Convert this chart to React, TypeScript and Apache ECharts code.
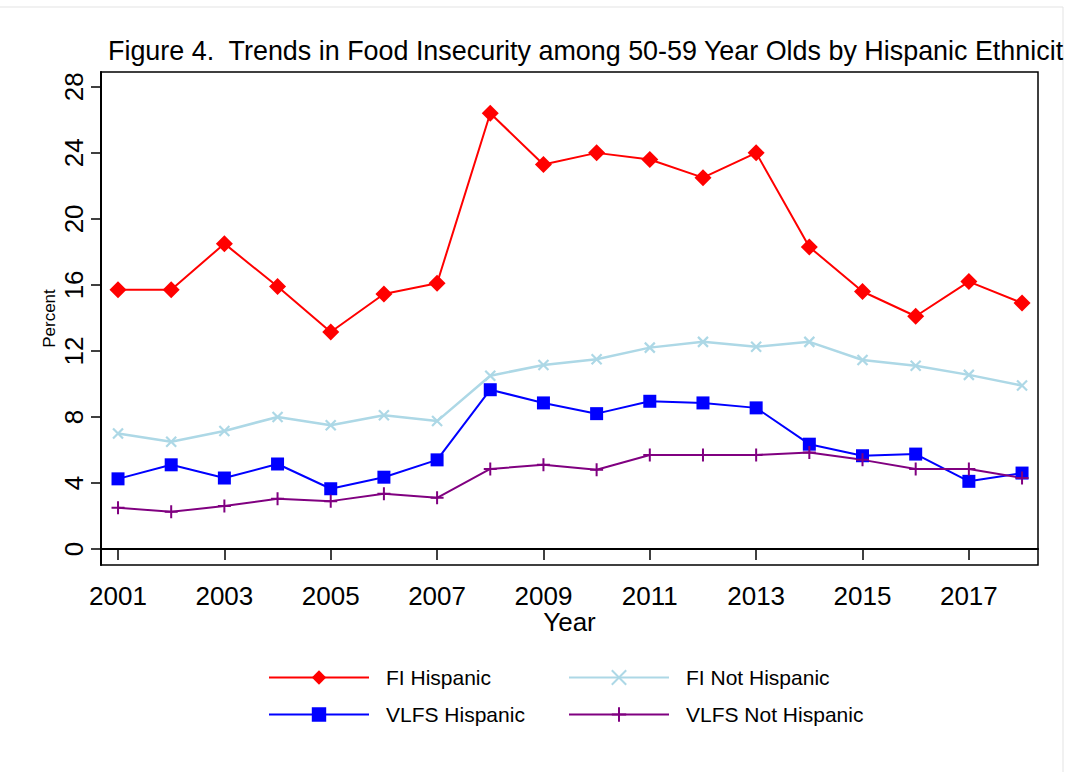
import React, { useEffect, useRef } from "react";
import * as echarts from "echarts";

const years = [2001, 2002, 2003, 2004, 2005, 2006, 2007, 2008, 2009, 2010, 2011, 2012, 2013, 2014, 2015, 2016, 2017, 2018];
const fiHispanic = [15.7, 15.7, 18.5, 15.9, 13.15, 15.45, 16.1, 26.4, 23.3, 24.0, 23.6, 22.5, 24.0, 18.3, 15.6, 14.1, 16.2, 14.9];
const fiNotHispanic = [7.0, 6.5, 7.15, 8.0, 7.5, 8.1, 7.75, 10.5, 11.15, 11.5, 12.2, 12.55, 12.25, 12.55, 11.45, 11.1, 10.55, 9.9];
const vlfsHispanic = [4.25, 5.1, 4.3, 5.15, 3.65, 4.35, 5.4, 9.65, 8.85, 8.2, 8.95, 8.85, 8.55, 6.35, 5.65, 5.75, 4.1, 4.6];
const vlfsNotHispanic = [2.5, 2.25, 2.6, 3.05, 2.9, 3.35, 3.1, 4.85, 5.1, 4.8, 5.7, 5.7, 5.7, 5.85, 5.4, 4.85, 4.85, 4.3];
const xTicks = [2001, 2003, 2005, 2007, 2009, 2011, 2013, 2015, 2017];
const yTicks = [0, 4, 8, 12, 16, 20, 24, 28];

const titleText = "Figure 4.  Trends in Food Insecurity among 50-59 Year Olds by Hispanic Ethnicit";
const FONT = "'Liberation Sans', Arial, Helvetica, sans-serif";

const X_SYMBOL = "path://M0,0 L10,10 M10,0 L0,10";
const PLUS_SYMBOL = "path://M5,0 L5,10 M0,5 L10,5";

function pairs(vals: number[]) {
  return years.map((y, i) => [y, vals[i]]);
}

export default function App() {
  const ref = useRef<HTMLDivElement>(null);
  useEffect(() => {
    if (!ref.current) return;
    const chart = echarts.init(ref.current, null, { renderer: "svg" });
    const seriesDefs = [
      { name: "FI Hispanic", data: fiHispanic, color: "#ff0000", symbol: "diamond", size: 17, width: 2, border: 0 },
      { name: "FI Not Hispanic", data: fiNotHispanic, color: "#add8e6", symbol: X_SYMBOL, size: 10, width: 2.5, border: 2.2 },
      { name: "VLFS Hispanic", data: vlfsHispanic, color: "#0000ff", symbol: "rect", size: 13, width: 2, border: 0 },
      { name: "VLFS Not Hispanic", data: vlfsNotHispanic, color: "#800080", symbol: PLUS_SYMBOL, size: 13, width: 2, border: 2 },
    ];
    const legendPos = [
      { left: 268, top: 667 },
      { left: 568, top: 667 },
      { left: 268, top: 704 },
      { left: 568, top: 704 },
    ];
    chart.setOption({
      animation: false,
      backgroundColor: "#ffffff",
      textStyle: { fontFamily: FONT },
      title: {
        text: titleText,
        left: 108,
        top: 37,
        padding: 0,
        textStyle: { fontSize: 26.9, fontWeight: "normal", color: "#000", fontFamily: FONT },
      },
      graphic: [
        {
          type: "rect",
          shape: { x: -2, y: 7, width: 1065, height: 800 },
          style: { fill: "none", stroke: "#e3e3e3", lineWidth: 1 },
          silent: true,
          z: -10,
        },
      ],
      legend: seriesDefs.map((s, i) => ({
        data: [s.name],
        left: legendPos[i].left,
        top: legendPos[i].top,
        padding: 0,
        itemWidth: 100,
        itemHeight: 18,
        textStyle: { fontSize: 21, color: "#000", fontFamily: FONT, padding: [0, 0, 0, 12] },
        selectedMode: false,
      })),
      grid: {
        left: 101,
        top: 72,
        right: 29,
        bottom: 207,
        show: true,
        borderColor: "#000",
        borderWidth: 1.5,
        containLabel: false,
      },
      xAxis: {
        type: "value",
        min: 2000.68,
        max: 2018.3,
        name: "Year",
        nameLocation: "middle",
        nameGap: 44,
        nameMoveOverlap: false,
        nameTextStyle: { fontSize: 26, color: "#000", fontFamily: FONT },
        axisLine: { show: true, lineStyle: { color: "#000", width: 2 } },
        axisTick: { show: true, length: 11, customValues: xTicks, lineStyle: { color: "#000", width: 1.5 } },
        axisLabel: { customValues: xTicks, fontSize: 26, color: "#000", margin: 18, fontFamily: FONT, formatter: (v: number) => String(v) },
        splitLine: { show: false },
      },
      yAxis: {
        type: "value",
        min: -0.97,
        max: 28.9,
        name: "Percent",
        nameLocation: "middle",
        nameRotate: 90,
        nameGap: 43,
        nameMoveOverlap: false,
        nameTextStyle: { fontSize: 17, color: "#000", fontFamily: FONT },
        axisLine: { show: true, lineStyle: { color: "#000", width: 2 } },
        axisTick: { show: true, length: 10, customValues: yTicks, lineStyle: { color: "#000", width: 1.5 } },
        axisLabel: { customValues: yTicks, fontSize: 26, color: "#000", margin: 14, rotate: 90, fontFamily: FONT, formatter: (v: number) => String(v) },
        splitLine: { show: false },
      },
      series: seriesDefs.map((s) => ({
        name: s.name,
        type: "line",
        data: pairs(s.data),
        symbol: s.symbol,
        symbolSize: s.size,
        showSymbol: true,
        lineStyle: { color: s.color, width: s.width },
        itemStyle: { color: s.color, borderColor: s.color, borderWidth: s.border },
        emphasis: { disabled: true },
      })),
    });
    return () => chart.dispose();
  }, []);
  return <div ref={ref} style={{ position: "absolute", left: 0, top: 0, width: 1067, height: 772 }} />;
}
